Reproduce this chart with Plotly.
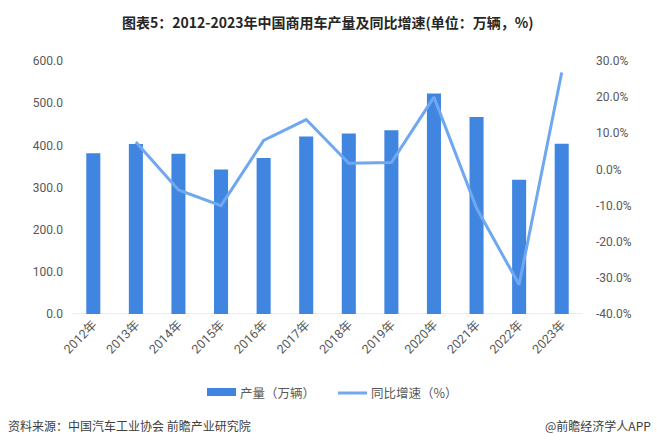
import plotly.graph_objects as go

years = ["2012年", "2013年", "2014年", "2015年", "2016年", "2017年",
         "2018年", "2019年", "2020年", "2021年", "2022年", "2023年"]
production = [381.1, 403.2, 380.3, 342.4, 369.8, 420.9, 428.0, 436.0, 523.1, 467.4, 318.5, 403.7]
growth = [None, 7.6, -5.7, -10.0, 8.0, 13.8, 1.7, 1.9, 20.0, -10.7, -31.9, 26.8]

left_ticks = [0, 100, 200, 300, 400, 500, 600]
right_ticks = [-40, -30, -20, -10, 0, 10, 20, 30]

BAR_COLOR = "#4086E0"
LINE_COLOR = "#6FA8F0"
font_cjk = "Noto Sans CJK SC"
tick_font = dict(family="Roboto, 'Noto Sans CJK SC'", size=12, color="#595959")

# plot area in pixels: left 72, right 583, top 61, bottom 314
L, R, T, B = 72, 583, 61, 314
W, H = R - L, B - T


def px(x):
    return (x - L) / W


def py(y):
    return (B - y) / H


fig = go.Figure()
fig.add_trace(go.Bar(
    x=years, y=production, name="产量（万辆）",
    marker=dict(color=BAR_COLOR, line=dict(width=0)),
    width=0.33, yaxis="y",
))
fig.add_trace(go.Scatter(
    x=years, y=growth, name="同比增速（%）", mode="lines",
    line=dict(color=LINE_COLOR, width=3), yaxis="y2",
))

leg_y = 392
fig.update_layout(
    width=657, height=446,
    margin=dict(l=L, r=657 - R, t=T, b=446 - B),
    paper_bgcolor="white", plot_bgcolor="white",
    showlegend=False,
    xaxis=dict(
        tickangle=-45, tickfont=dict(family="Roboto, 'Noto Sans CJK SC'", size=12.5, color="#595959"),
        showgrid=False, showline=False, ticks="", zeroline=False,
    ),
    yaxis=dict(
        range=[0, 600], tickvals=left_ticks,
        ticktext=[f"{v:.1f}" for v in left_ticks],
        tickfont=tick_font, showgrid=False, zeroline=False,
        showline=False, ticks="", ticklabelstandoff=8,
    ),
    yaxis2=dict(
        range=[-40, 30], tickvals=right_ticks,
        ticktext=[f"{v:.1f}%" for v in right_ticks],
        tickfont=tick_font, overlaying="y", side="right",
        showgrid=False, zeroline=False, showline=False, ticks="",
        ticklabelstandoff=12,
    ),
    shapes=[
        dict(type="line", xref="paper", yref="y", x0=0, x1=1, y0=0, y1=0,
             line=dict(color="#D9D9D9", width=1), layer="below"),
        dict(type="rect", xref="paper", yref="paper", x0=px(207), x1=px(236),
             y0=py(leg_y - 4), y1=py(leg_y + 4), fillcolor=BAR_COLOR, line=dict(width=0)),
        dict(type="line", xref="paper", yref="paper", x0=px(338), x1=px(367),
             y0=py(leg_y + 1), y1=py(leg_y + 1), line=dict(color=LINE_COLOR, width=3)),
    ],
    annotations=[
        dict(text="<b>图表5：2012-2023年中国商用车产量及同比增速(单位：万辆，%)</b>",
             xref="paper", yref="paper", x=px(328), xanchor="center",
             y=py(22), yanchor="middle", showarrow=False,
             font=dict(family=font_cjk, size=14, color="#262626")),
        dict(text="产量（万辆）", xref="paper", yref="paper", x=px(238), xanchor="left",
             y=py(leg_y), yanchor="middle", showarrow=False,
             font=dict(family=font_cjk, size=12.5, color="#595959")),
        dict(text="同比增速（%）", xref="paper", yref="paper", x=px(369), xanchor="left",
             y=py(leg_y), yanchor="middle", showarrow=False,
             font=dict(family=font_cjk, size=12.5, color="#595959")),
        dict(text="资料来源：中国汽车工业协会 前瞻产业研究院",
             xref="paper", yref="paper", x=px(6), xanchor="left",
             y=py(425), yanchor="middle", showarrow=False,
             font=dict(family=font_cjk, size=12, color="#404040")),
        dict(text="@前瞻经济学人APP",
             xref="paper", yref="paper", x=px(653), xanchor="right",
             y=py(425), yanchor="middle", showarrow=False,
             font=dict(family=font_cjk, size=12, color="#404040")),
    ],
)

fig.write_html("out.html")
